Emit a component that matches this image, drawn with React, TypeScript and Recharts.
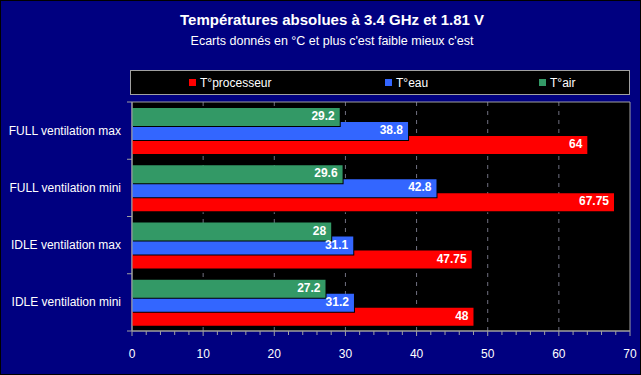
import React from 'react';
import { BarChart, Bar, XAxis, YAxis, CartesianGrid, ReferenceLine, ReferenceArea, LabelList } from 'recharts';

const categories = ['FULL ventilation max', 'FULL ventilation mini', 'IDLE ventilation max', 'IDLE ventilation mini'];
const processeur = [64, 67.75, 47.75, 48];
const eau = [38.8, 42.8, 31.1, 31.2];
const air = [29.2, 29.6, 28, 27.2];
const seriesNames = ['T°processeur', 'T°eau', 'T°air'];
const seriesColors = ['#FF0000', '#3366FF', '#339966'];
const xTicks = [0, 2, 4, 6, 8, 10, 12, 14, 16, 18, 20, 22, 24, 26, 28, 30, 32, 34, 36, 38, 40, 42, 44, 46, 48, 50, 52, 54, 56, 58, 60, 62, 64, 66, 68, 70];
const xLabels = [0, 10, 20, 30, 40, 50, 60, 70];
const gridValues = [10, 20, 30, 40, 50, 60];
const title = 'Températures absolues à 3.4 GHz et 1.81 V';
const subtitle = "Ecarts donnés en °C et plus c'est faible mieux c'est";

const data = categories.map((name, i) => ({ name, proc: processeur[i], eau: eau[i], air: air[i] }));

const FONT = '"Liberation Sans", Arial, sans-serif';
const GRAY = '#a0a0a0';
const legendLefts = [58, 254, 408];

const ShadowBar = (props: any) => {
  const { x, y, width, height, fill } = props;
  if (width == null || height == null) return null;
  return (
    <g>
      <rect x={x + 1} y={y + 1} width={width} height={height} fill="#000" />
      <rect x={x} y={y} width={width} height={height} fill={fill} />
    </g>
  );
};

const renderLabel = (props: any) => {
  const { x, y, width, height, value } = props;
  return (
    <text x={x + width - 5} y={y + height / 2 - 1} textAnchor="end" dominantBaseline="central"
      fill="#fff" fontFamily={FONT} fontWeight="bold" fontSize={12}>
      {String(value)}
    </text>
  );
};

const YTick = (props: any) => {
  const { x, y, payload, index } = props;
  const half = payload && payload.offset ? payload.offset : 28.6;
  return (
    <g>
      <text x={x - 11} y={y} textAnchor="end" dominantBaseline="central" fill="#fff" fontFamily={FONT} fontSize={12}>
        {payload.value}
      </text>
      <line x1={x - 5} x2={x} y1={y + half} y2={y + half} stroke={GRAY} />
      {index === 0 ? <line x1={x - 5} x2={x} y1={y - half} y2={y - half} stroke={GRAY} /> : null}
    </g>
  );
};

const XTick = (props: any) => {
  const { x, y, payload } = props;
  const major = xLabels.indexOf(payload.value) >= 0;
  return (
    <g>
      <line x1={x} x2={x} y1={y} y2={y + (major ? 5 : 4)} stroke={GRAY} />
      {major ? (
        <text x={x} y={y + 23} textAnchor="middle" dominantBaseline="central" fill="#fff" fontFamily={FONT} fontSize={12}>
          {payload.value}
        </text>
      ) : null}
    </g>
  );
};

export default function App() {
  return (
    <div style={{ position: 'absolute', left: 0, top: 0, width: 641, height: 375, background: '#000080', boxSizing: 'border-box', border: '1px solid #000', overflow: 'hidden' }}>
      <div style={{ position: 'absolute', left: 0, top: 10, width: 662, textAlign: 'center', color: '#fff', fontFamily: FONT, fontWeight: 'bold', fontSize: 15, lineHeight: '18px' }}>{title}</div>
      <div style={{ position: 'absolute', left: 0, top: 32, width: 662, textAlign: 'center', color: '#fff', fontFamily: FONT, fontSize: 12.5, lineHeight: '16px' }}>{subtitle}</div>
      <div style={{ position: 'absolute', left: 129, top: 69, width: 500, height: 25, boxSizing: 'border-box', border: `1px solid ${GRAY}`, background: '#000' }}>
        {seriesNames.map((n, i) => (
          <div key={n} style={{ position: 'absolute', left: legendLefts[i], top: 0, height: 23, display: 'flex', alignItems: 'center', color: '#fff', fontFamily: FONT, fontSize: 12 }}>
            <span style={{ display: 'inline-block', width: 7, height: 7, background: seriesColors[i], marginRight: 4 }} />
            <span>{n}</span>
          </div>
        ))}
      </div>
      <div style={{ position: 'absolute', left: 0, top: 0 }}>
        <BarChart width={641} height={375} data={data} layout="vertical" barGap={-4}
          margin={{ top: 101, right: 12, left: 0, bottom: 0 }}>
          <CartesianGrid horizontal={false} vertical={false} fill="#000" />
          {gridValues.map((v) => (
            <ReferenceLine key={v} x={v} stroke="#707080" strokeDasharray="4 5" zIndex={-50} />
          ))}
          <XAxis type="number" domain={[0, 70]} ticks={xTicks} interval={0} tick={<XTick />} tickLine={false}
            tickSize={0} tickMargin={0} height={45} axisLine={{ stroke: GRAY }} allowDataOverflow />
          <YAxis type="category" dataKey="name" width={131} tick={<YTick />} tickLine={false}
            tickSize={0} tickMargin={0} axisLine={{ stroke: GRAY }} interval={0} />
          <Bar dataKey="proc" name={seriesNames[0]} fill={seriesColors[0]} barSize={18} shape={ShadowBar} isAnimationActive={false}>
            <LabelList dataKey="proc" content={renderLabel} />
          </Bar>
          <Bar dataKey="eau" stackId="2" name={seriesNames[1]} fill={seriesColors[1]} barSize={18} shape={ShadowBar} isAnimationActive={false}>
            <LabelList dataKey="eau" content={renderLabel} />
          </Bar>
          <Bar dataKey="air" stackId="1" name={seriesNames[2]} fill={seriesColors[2]} barSize={18} shape={ShadowBar} isAnimationActive={false}>
            <LabelList dataKey="air" content={renderLabel} />
          </Bar>
          <ReferenceArea x1={0} x2={70} fill="none" stroke={GRAY} ifOverflow="visible" />
        </BarChart>
      </div>
    </div>
  );
}
